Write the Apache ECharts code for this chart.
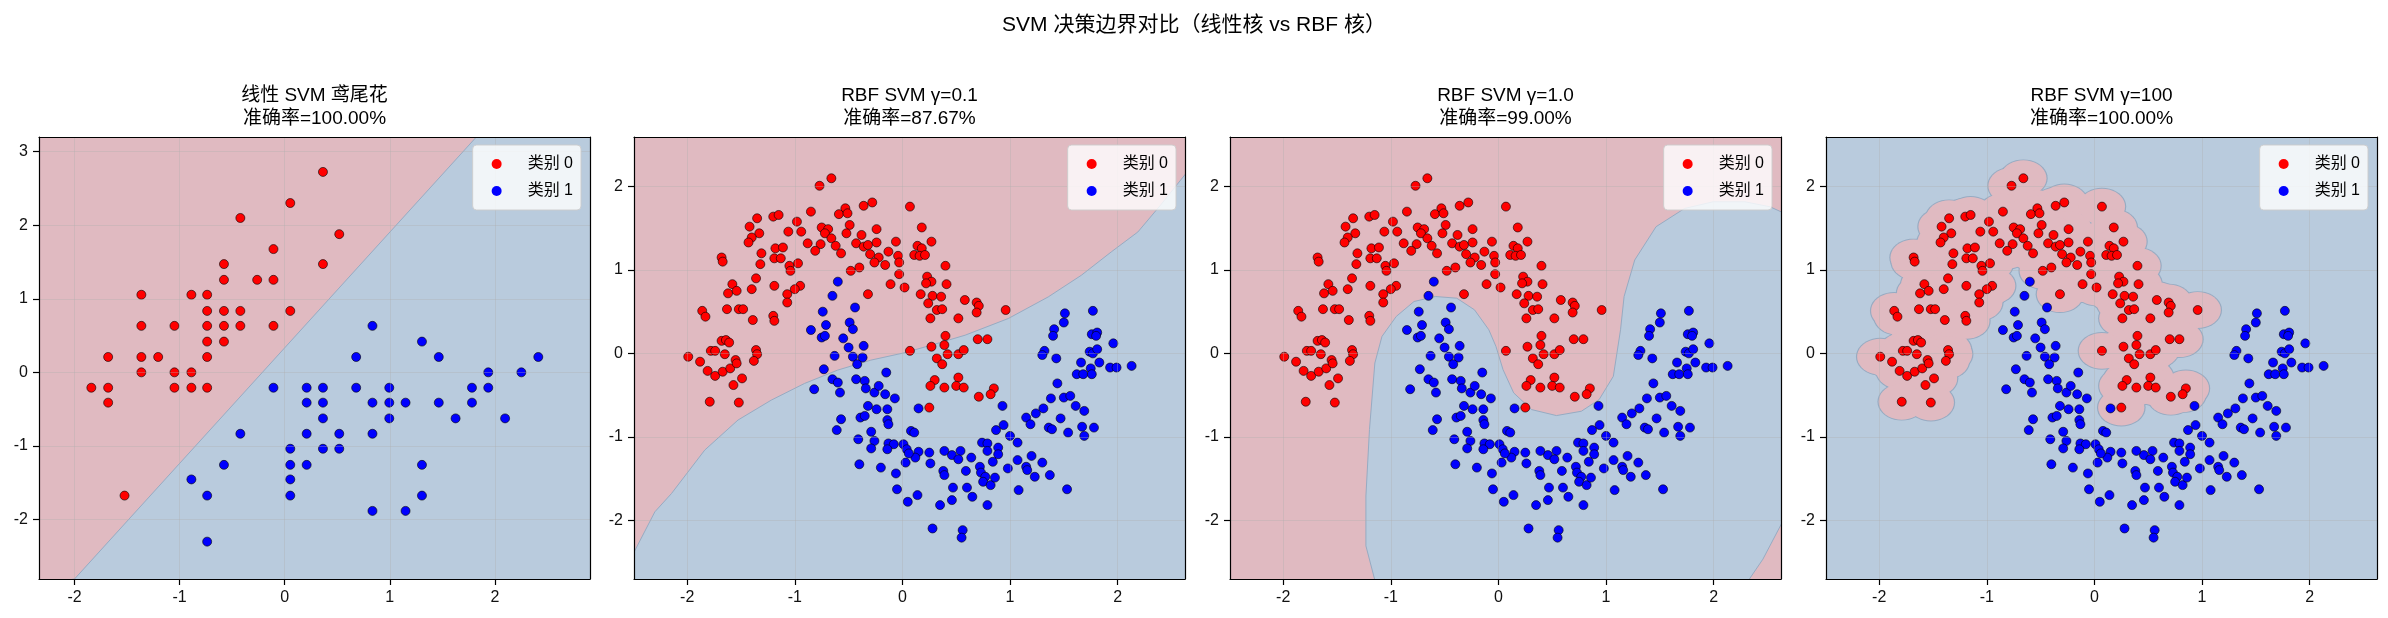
<!DOCTYPE html>
<html><head><meta charset="utf-8">
<script src="https://cdn.jsdelivr.net/npm/echarts@6/dist/echarts.min.js"></script>
<style>html,body{margin:0;padding:0;background:#fff}#c{width:2388px;height:618px}</style>
</head><body><div id="c"></div>
<script>
// ---------------- data ----------------
const suptitle = 'SVM 决策边界对比（线性核 vs RBF 核）';
const panelTitles = ['线性 SVM 鸢尾花\n准确率=100.00%', 'RBF SVM γ=0.1\n准确率=87.67%', 'RBF SVM γ=1.0\n准确率=99.00%', 'RBF SVM γ=100\n准确率=100.00%'];
const classNames = ['类别 0', '类别 1'];
const xTicks = [-2, -1, 0, 1, 2];
const yTicksIris = [-2, -1, 0, 1, 2, 3];
const yTicksMoons = [-2, -1, 0, 1, 2];
const irisXRange = [-2.338, 2.905];
const irisYRange = [-2.81, 3.20];
const moonsXRange = [-2.494, 2.626];
const moonsYRange = [-2.706, 2.595];

const irisRed = [[0.364,2.725],[0.053,2.302],[-0.422,2.099],[0.519,1.879],[-0.107,1.676],[-0.578,1.472],[0.364,1.472],[-0.578,1.258],[-0.262,1.258],[-0.107,1.258],[-1.364,1.055],[-0.888,1.055],[-0.738,1.055],[-0.738,0.835],[-0.578,0.835],[-0.422,0.835],[0.053,0.835],[-1.364,0.632],[-1.049,0.632],[-0.738,0.632],[-0.578,0.632],[-0.422,0.632],[-0.107,0.632],[-0.738,0.418],[-0.578,0.418],[-1.680,0.209],[-1.364,0.209],[-1.204,0.209],[-0.738,0.209],[-1.364,0],[-1.049,0],[-0.888,0],[-1.840,-0.209],[-1.680,-0.209],[-1.049,-0.209],[-0.888,-0.209],[-0.738,-0.209],[-1.680,-0.412],[-1.524,-1.676]];
const irisBlue = [[0.835,0.632],[1.306,0.418],[0.680,0.209],[1.466,0.209],[2.413,0.209],[1.937,0],[2.252,0],[-0.107,-0.209],[0.209,-0.209],[0.364,-0.209],[0.680,-0.209],[0.995,-0.209],[1.782,-0.209],[1.937,-0.209],[0.209,-0.412],[0.364,-0.412],[0.835,-0.412],[0.995,-0.412],[1.150,-0.412],[1.466,-0.412],[1.782,-0.412],[0.364,-0.626],[0.995,-0.626],[1.626,-0.626],[2.097,-0.626],[-0.422,-0.835],[0.209,-0.835],[0.519,-0.835],[0.835,-0.835],[0.053,-1.039],[0.364,-1.039],[0.519,-1.039],[-0.578,-1.258],[0.053,-1.258],[0.209,-1.258],[1.306,-1.258],[-0.888,-1.456],[0.053,-1.456],[-0.738,-1.676],[0.053,-1.676],[1.306,-1.676],[0.835,-1.884],[1.150,-1.884],[-0.738,-2.302]];

const moonsRed = [[-0.66,2.10],[-0.77,2.01],[-0.36,1.77],[-0.28,1.81],[-0.85,1.70],[-0.53,1.74],[-0.59,1.67],[-0.51,1.68],[-1.20,1.64],[-1.15,1.66],[-1.35,1.62],[-0.98,1.58],[-1.42,1.52],[-1.33,1.44],[-1.40,1.39],[-1.43,1.33],[-1.06,1.46],[-0.94,1.46],[-0.75,1.51],[-0.69,1.49],[-0.72,1.44],[-0.49,1.54],[-0.52,1.44],[-0.24,1.49],[-0.38,1.42],[-0.66,1.38],[-0.88,1.32],[-0.76,1.31],[-0.81,1.23],[-0.62,1.29],[-0.57,1.20],[-0.43,1.32],[-0.36,1.28],[-0.32,1.30],[-0.24,1.33],[-0.06,1.34],[-0.13,1.22],[-0.30,1.19],[-0.22,1.15],[-0.26,1.09],[-0.16,1.06],[-0.04,1.17],[-0.03,1.09],[-0.03,0.95],[0.02,0.79],[-0.11,0.83],[-0.40,1.03],[-0.48,0.99],[-0.32,0.71],[-1.31,1.20],[-1.18,1.26],[-1.11,1.27],[-1.19,1.14],[-1.13,1.14],[-1.32,1.07],[-1.68,1.15],[-1.67,1.10],[-1.05,1.05],[-1.04,0.99],[-0.97,1.08],[-1.36,0.90],[-1.19,0.81],[-0.95,0.81],[-1.00,0.77],[-1.07,0.71],[-1.07,0.61],[-1.58,0.83],[-1.62,0.72],[-1.54,0.75],[-1.40,0.77],[-1.86,0.51],[-1.83,0.44],[-1.63,0.53],[-1.52,0.53],[-1.48,0.53],[-1.39,0.40],[-1.20,0.45],[-1.19,0.39],[-1.68,0.15],[-1.64,0.16],[-1.61,0.13],[-1.78,0.03],[-1.74,0.03],[-1.65,-0.01],[-1.36,0.04],[-1.35,-0.01],[-1.38,-0.09],[-1.99,-0.04],[-1.88,-0.10],[-1.81,-0.21],[-1.74,-0.27],[-1.67,-0.22],[-1.60,-0.18],[-1.55,-0.08],[-1.54,-0.12],[-1.49,-0.30],
[0.07,1.76],[0.18,1.51],[0.27,1.34],[0.14,1.29],[0.18,1.26],[0.11,1.18],[0.16,1.17],[0.21,1.18],[0.40,1.05],[0.23,0.92],[0.27,0.86],[0.22,0.84],[0.41,0.83],[0.17,0.71],[0.28,0.69],[0.36,0.68],[0.24,0.60],[0.58,0.64],[0.69,0.61],[0.71,0.57],[0.69,0.49],[0.32,0.52],[0.37,0.53],[0.26,0.42],[0.52,0.42],[0.96,0.52],[0.40,0.21],[0.70,0.17],[0.79,0.17],[0.27,0.08],[0.39,0.10],[0.07,0.03],[0.42,-0.01],[0.52,-0.01],[0.57,0.04],[0.32,-0.06],[0.37,-0.13],[0.52,-0.29],
[-1.57,-0.38],[-1.79,-0.58],[-1.52,-0.59],
[0.30,-0.32],[0.26,-0.39],[0.39,-0.41],[0.50,-0.39],[0.57,-0.41],[0.85,-0.42],[0.82,-0.49],[0.71,-0.52],[0.25,-0.65]];

const moonsBlue = [[-0.60,0.86],[-0.65,0.69],[-0.74,0.50],[-0.44,0.55],[-0.71,0.34],[-0.49,0.37],[-0.46,0.29],[-0.85,0.28],[-0.75,0.19],[-0.72,0.21],[-0.55,0.18],[-0.50,0.07],[-0.36,0.09],[-0.63,-0.03],[-0.46,-0.04],[-0.37,-0.05],[-0.42,-0.13],[-0.73,-0.19],[-0.15,-0.23],
[1.51,0.48],[1.77,0.51],[1.50,0.37],[1.41,0.29],[1.40,0.21],[1.76,0.23],[1.81,0.25],[1.80,0.21],[1.96,0.12],[1.32,0.03],[1.30,-0.02],[1.43,-0.06],[1.74,0.02],[1.77,0.00],[1.81,0.05],[1.66,-0.11],[1.83,-0.11],[1.75,-0.18],[1.62,-0.25],[1.68,-0.25],[1.76,-0.25],[1.93,-0.17],[1.99,-0.17],[2.13,-0.15],
[-0.65,-0.31],[-0.60,-0.35],[-0.43,-0.31],[-0.35,-0.33],[-0.34,-0.42],[-0.26,-0.47],[-0.22,-0.39],[-0.16,-0.49],[-0.07,-0.54],[-0.82,-0.43],[-0.58,-0.47],[-0.32,-0.63],[-0.24,-0.67],[-0.14,-0.67],[-0.39,-0.77],[-0.35,-0.75],[-0.57,-0.79],[-0.61,-0.92],[-0.14,-0.80],[-0.13,-0.85],[-0.29,-0.94],[-0.41,-1.03],[-0.26,-1.05],[-0.29,-1.14],[-0.13,-1.08],[-0.08,-1.09],[-0.14,-1.15],[0.01,-1.09],[-0.40,-1.33],[-0.20,-1.37],[-0.06,-1.44],[-0.05,-1.63],
[1.44,-0.36],[1.38,-0.54],[1.50,-0.53],[1.56,-0.51],[0.93,-0.63],[0.15,-0.66],[1.31,-0.66],[1.61,-0.63],[1.69,-0.69],[1.15,-0.77],[1.24,-0.72],[1.19,-0.85],[1.47,-0.78],[1.36,-0.89],[1.39,-0.91],[1.54,-0.95],[1.67,-0.88],[1.78,-0.89],[1.69,-0.99],[0.94,-0.86],[0.87,-0.92],[0.08,-0.93],[0.11,-0.95],[1.00,-0.99],[1.07,-1.07],[0.74,-1.07],[0.79,-1.08],[0.79,-1.17],[0.89,-1.13],[0.89,-1.21],[0.84,-1.30],[0.64,-1.25],[0.54,-1.17],[0.46,-1.22],[0.52,-1.27],[0.39,-1.17],[0.25,-1.19],[0.15,-1.18],[0.12,-1.25],[0.04,-1.15],[0.06,-1.20],[0.03,-1.31],[0.26,-1.32],[1.20,-1.23],[1.30,-1.31],[1.07,-1.28],[0.98,-1.38],[1.15,-1.36],[1.16,-1.40],[1.23,-1.48],[1.37,-1.46],[0.72,-1.36],[0.73,-1.43],[0.77,-1.48],[0.75,-1.54],[0.82,-1.58],[0.86,-1.49],[0.59,-1.41],[0.38,-1.41],[0.39,-1.46],[0.47,-1.61],[0.60,-1.61],[0.65,-1.72],[0.46,-1.76],[0.35,-1.82],[0.79,-1.82],[1.08,-1.64],[1.53,-1.63],[0.14,-1.70],[0.05,-1.78],[0.28,-2.10],[0.56,-2.12],[0.55,-2.21]];

// decision boundaries
const linearBoundary = [[-2.00,-2.81],[1.83,3.21]];
const rbf01Boundary = [[-2.50,-2.40],[-2.30,-1.90],[-2.145,-1.68],[-1.837,-1.16],[-1.528,-0.80],[-1.219,-0.561],[-0.910,-0.361],[-0.602,-0.201],[-0.293,-0.081],[0.015,0.006],[0.30,0.11],[0.583,0.218],[0.984,0.418],[1.355,0.677],[1.663,0.937],[1.941,1.217],[2.188,1.456],[2.40,1.78],[2.63,2.15]];
const rbf1BlueRegion = [[-1.148,-2.72],[-1.231,-2.309],[-1.231,-1.711],[-1.198,-0.913],[-1.148,-0.116],[-1.082,0.203],[-0.949,0.443],[-0.784,0.622],[-0.586,0.682],[-0.387,0.662],[-0.222,0.522],[-0.089,0.283],[-0.023,0.084],[0.043,-0.195],[0.142,-0.474],[0.308,-0.674],[0.539,-0.746],[0.771,-0.694],[0.936,-0.554],[1.068,-0.275],[1.135,0.283],[1.168,0.682],[1.267,1.120],[1.465,1.519],[1.730,1.738],[1.995,1.818],[2.292,1.818],[2.524,1.758],[2.64,1.69],[2.64,-2.02],[2.458,-2.468],[2.325,-2.72]];

// ---------------- styling / layout ----------------
const FONT = "'Liberation Sans','Noto Sans CJK SC',sans-serif";
const RED_BG = '#e0bac1', BLUE_BG = '#b9cbdd', EDGE = '#97abc2';
const W = 2388;
const gridLefts = [39, 634, 1230, 1826], GW = 551, GT = 137, GH = 442;
const panels = [
  {xr: irisXRange, yr: irisYRange, yt: yTicksIris, red: irisRed, blue: irisBlue, bg: BLUE_BG},
  {xr: moonsXRange, yr: moonsYRange, yt: yTicksMoons, red: moonsRed, blue: moonsBlue, bg: RED_BG},
  {xr: moonsXRange, yr: moonsYRange, yt: yTicksMoons, red: moonsRed, blue: moonsBlue, bg: RED_BG},
  {xr: moonsXRange, yr: moonsYRange, yt: yTicksMoons, red: moonsRed, blue: moonsBlue, bg: BLUE_BG}
];
panels[0].region = {fill: RED_BG, poly: [[irisXRange[0]-0.1, irisYRange[0]-0.1]].concat(linearBoundary, [[irisXRange[0]-0.1, irisYRange[1]+0.1]])};
panels[1].region = {fill: BLUE_BG, poly: rbf01Boundary.concat([[moonsXRange[1]+0.1, moonsYRange[0]-0.1],[moonsXRange[0]-0.1, moonsYRange[0]-0.1]])};
panels[2].region = {fill: BLUE_BG, poly: rbf1BlueRegion};

const fmt = v => (Math.abs(v - Math.round(v)) < 1e-9 ? String(Math.round(v)) : '');
const grids = [], xAxes = [], yAxes = [], series = [], legends = [], titles = [];
titles.push({text: suptitle, left: W / 2, top: 13, textAlign: 'center', padding: 0,
  textStyle: {fontSize: 21, fontWeight: 'normal', color: '#000', fontFamily: FONT, lineHeight: 25}});

panels.forEach((p, k) => {
  grids.push({left: gridLefts[k], top: GT, width: GW, height: GH, show: true, backgroundColor: p.bg, borderWidth: 0, containLabel: false});
  const frame = {show: true, onZero: false, lineStyle: {color: '#000', width: 1.2}};
  xAxes.push({type: 'value', gridIndex: k, position: 'bottom', min: p.xr[0], max: p.xr[1], minInterval: 1, maxInterval: 1, z: 10,
    axisLine: frame,
    axisTick: {show: true, inside: false, length: 6, lineStyle: {color: '#000', width: 1.2}, customValues: xTicks},
    axisLabel: {show: true, margin: 11, fontSize: 16, color: '#111', fontFamily: FONT, customValues: xTicks, formatter: fmt},
    splitLine: {show: true, lineStyle: {color: 'rgba(176,176,176,0.35)', width: 1}}});
  xAxes.push({type: 'value', gridIndex: k, position: 'top', min: p.xr[0], max: p.xr[1], z: 10,
    axisLine: frame, axisTick: {show: false}, axisLabel: {show: false}, splitLine: {show: false}});
  yAxes.push({type: 'value', gridIndex: k, position: 'left', min: p.yr[0], max: p.yr[1], minInterval: 1, maxInterval: 1, z: 10,
    axisLine: frame,
    axisTick: {show: true, inside: false, length: 6, lineStyle: {color: '#000', width: 1.2}, customValues: p.yt},
    axisLabel: {show: true, margin: 11, fontSize: 16, color: '#111', fontFamily: FONT, customValues: p.yt, formatter: fmt},
    splitLine: {show: true, lineStyle: {color: 'rgba(176,176,176,0.35)', width: 1}}});
  yAxes.push({type: 'value', gridIndex: k, position: 'right', min: p.yr[0], max: p.yr[1], z: 10,
    axisLine: frame, axisTick: {show: false}, axisLabel: {show: false}, splitLine: {show: false}});

  const xi = 2 * k, yi = 2 * k;
  if (p.region) {
    const reg = p.region;
    series.push({type: 'custom', xAxisIndex: xi, yAxisIndex: yi, clip: true, silent: true, z: 1,
      data: [[0, 0]],
      renderItem: (params, api) => ({type: 'polygon',
        shape: {points: reg.poly.map(pt => api.coord(pt))},
        style: {fill: reg.fill, stroke: EDGE, lineWidth: 1}})});
  }
  if (k === 3) {
    // gamma=100: region hugs the red class
    [[0.226, EDGE], [0.215, RED_BG]].forEach(([r, col]) => {
      series.push({type: 'custom', xAxisIndex: xi, yAxisIndex: yi, clip: true, silent: true, z: 1,
        data: moonsRed,
        renderItem: (params, api) => {
          const c = api.coord([api.value(0), api.value(1)]);
          const s = api.size([r, r]);
          const pts = [];
          for (let i = 0; i < 40; i++) {
            const a = i / 40 * Math.PI * 2;
            pts.push([c[0] + s[0] * Math.cos(a), c[1] + s[1] * Math.sin(a)]);
          }
          return {type: 'polygon', shape: {points: pts}, style: {fill: col}};
        }});
    });
  }
  series.push({type: 'scatter', name: classNames[0], xAxisIndex: xi, yAxisIndex: yi, data: p.red, symbolSize: 9, z: 3, silent: true,
    itemStyle: {color: '#ff0000', borderColor: '#000', borderWidth: 0.6, opacity: 1}});
  series.push({type: 'scatter', name: classNames[1], xAxisIndex: xi, yAxisIndex: yi, data: p.blue, symbolSize: 9, z: 3, silent: true,
    itemStyle: {color: '#0000ff', borderColor: '#000', borderWidth: 0.6, opacity: 1}});

  legends.push({data: classNames, orient: 'vertical', right: W - (gridLefts[k] + GW) + 9, top: GT + 8, z: 20,
    padding: [11, 8, 11, 19], itemWidth: 10, itemHeight: 10, itemGap: 11, icon: 'circle',
    itemStyle: {borderWidth: 0},
    backgroundColor: 'rgba(255,255,255,0.8)', borderColor: 'rgba(204,204,204,0.9)', borderWidth: 1, borderRadius: 4,
    selectedMode: false,
    formatter: name => '{t|' + name + '}',
    textStyle: {fontSize: 16, lineHeight: 16, color: '#000', fontFamily: FONT,
      rich: {t: {fontSize: 16, lineHeight: 16, color: '#000', fontFamily: FONT, padding: [0, 0, 0, 21]}}}});

  titles.push({text: panelTitles[k], left: gridLefts[k] + GW / 2, top: 84, textAlign: 'center', padding: 0,
    textStyle: {fontSize: 19, fontWeight: 'normal', color: '#000', fontFamily: FONT, lineHeight: 23}});
});

const chart = echarts.init(document.getElementById('c'), null, {renderer: 'canvas'});
chart.setOption({animation: false, backgroundColor: '#fff', title: titles, grid: grids, xAxis: xAxes, yAxis: yAxes, legend: legends, series: series});
</script></body></html>
